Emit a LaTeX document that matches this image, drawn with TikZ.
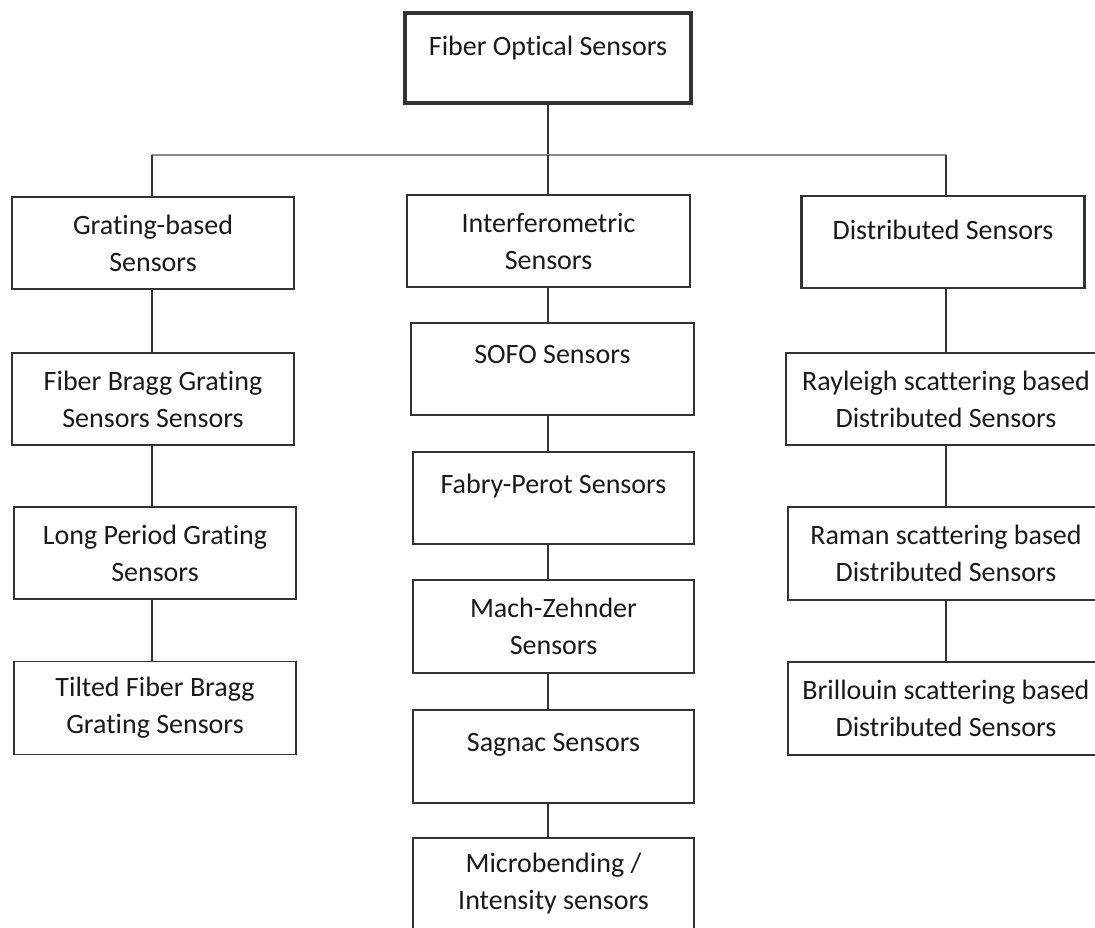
\documentclass[tikz,border=0pt]{standalone}
\usepackage{fontspec}
\setmainfont{Carlito}[Ligatures=NoCommon]
\usepackage{tikz}

\begin{document}
\begin{tikzpicture}[x=1pt,y=-1pt,
    box/.style={draw=black!80,line width=1.4pt,minimum width=282pt,minimum height=92pt,
      align=center,inner sep=0pt,text=black!90,font=\fontsize{28}{37}\selectfont},
    heavy/.style={box,line width=2.6pt},
    link/.style={draw=black!80,line width=1.5pt},
    bus/.style={draw=black!45,line width=1.2pt}]
    \useasboundingbox (0,0) rectangle (1095,927);
    \clip (0,0) rectangle (1095,927);
  \node[box,line width=4.5pt,minimum width=286pt,minimum height=90pt] (fos) at (548,58) {Fiber Optical Sensors\\[-13pt]~};
  \node[heavy] (grating) at (153,243) {Grating-based\\Sensors};
  \node[heavy,minimum width=283pt] (interf) at (548.5,241) {Interferometric\\Sensors};
  \node[heavy,minimum width=283pt] (distrib) at (943,242) {Distributed Sensors\\[-13pt]~};
  \node[box] (fbg) at (153,399) {Fiber Bragg Grating\\Sensors Sensors};
  \node[box] (lpg) at (155,553) {Long Period Grating\\Sensors};
  \node[box,minimum height=93pt] (tfbg) at (155,708) {Tilted Fiber Bragg\\Grating Sensors};
  \node[box,minimum width=283pt] (sofo) at (552.5,369) {SOFO Sensors\\[-8pt]~};
  \node[box,minimum width=281pt] (fp) at (553.5,498) {Fabry-Perot Sensors\\[-8pt]~};
  \node[box,minimum width=281pt,minimum height=93pt] (mz) at (553.5,626.5) {Mach-Zehnder\\Sensors};
  \node[box,minimum width=281pt,minimum height=93pt] (sagnac) at (553.5,756.5) {Sagnac Sensors\\[-8pt]~};
  \node[box,minimum width=281pt] (micro) at (553.5,884) {Microbending /\\Intensity sensors};
  \node[box,minimum width=320pt] (rayleigh) at (946,399) {Rayleigh scattering based\\Distributed Sensors};
  \node[box,minimum width=316pt,minimum height=93pt] (raman) at (946,553.5) {Raman scattering based\\Distributed Sensors};
  \node[box,minimum width=316pt,minimum height=93pt] (brillouin) at (946,708.5) {Brillouin scattering based\\Distributed Sensors};
  \coordinate (busstart) at (152,155);
  \coordinate (split) at (548,155);
  \coordinate (busend) at (946,155);
  \draw[link] (fos) -- (split);
  \draw[bus] (busstart) -- (busend);
  \foreach \c/\b in {busstart/grating,split/interf,busend/distrib}
    \draw[link] (\c) -- (\c |- \b.north);
  \foreach \c/\a/\b in {busstart/grating/fbg,busstart/fbg/lpg,busstart/lpg/tfbg,split/interf/sofo,split/sofo/fp,split/fp/mz,split/mz/sagnac,split/sagnac/micro,busend/distrib/rayleigh,busend/rayleigh/raman,busend/raman/brillouin}
    \draw[link] (\c |- \a.south) -- (\c |- \b.north);
\end{tikzpicture}
\end{document}
